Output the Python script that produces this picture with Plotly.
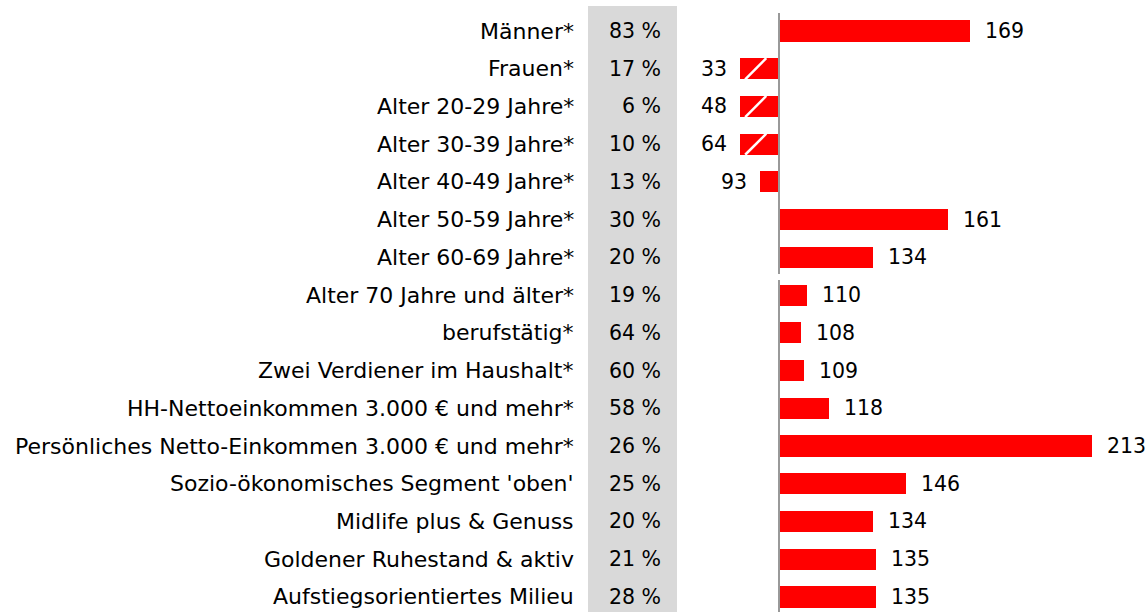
import plotly.graph_objects as go

categories = ["Männer*", "Frauen*", "Alter 20-29 Jahre*", "Alter 30-39 Jahre*", "Alter 40-49 Jahre*",
              "Alter 50-59 Jahre*", "Alter 60-69 Jahre*", "Alter 70 Jahre und älter*", "berufstätig*",
              "Zwei Verdiener im Haushalt*", "HH-Nettoeinkommen 3.000 € und mehr*",
              "Persönliches Netto-Einkommen 3.000 € und mehr*", "Sozio-ökonomisches Segment 'oben'",
              "Midlife plus & Genuss", "Goldener Ruhestand & aktiv", "Aufstiegsorientiertes Milieu"]
shares = [83, 17, 6, 10, 13, 30, 20, 19, 64, 60, 58, 26, 25, 20, 21, 28]
index_values = [169, 33, 48, 64, 93, 161, 134, 110, 108, 109, 118, 213, 146, 134, 135, 135]

BASE = 100
CLIP = 86
OFF = 0
W, H = 1146 - OFF, 612 - OFF
PX_PER_UNIT = 2.77
BASE_PX = 779 - OFF
x_lo = BASE - BASE_PX / PX_PER_UNIT
x_hi = BASE + (W - BASE_PX) / PX_PER_UNIT
ROW = 37.73
FIRST_Y = 31 - OFF
N = len(categories)
y_top = 0 - FIRST_Y / ROW
y_bot = (N - 1) + (H - (FIRST_Y + ROW * (N - 1))) / ROW

FONT = "DejaVu Sans"
FS_LABEL = 22
FS_NUM = 20.5
BAR_W = 0.56

ys = list(range(N))
disp = [max(v, CLIP) for v in index_values]

fig = go.Figure()
fig.add_trace(go.Bar(
    orientation="h", y=ys, x=[d - BASE for d in disp], base=BASE,
    width=BAR_W, marker=dict(color="#ff0000", line=dict(width=0)),
    hoverinfo="skip", showlegend=False))

def px_x(p):
    return (p - OFF) / W

def px_y(p):
    return 1 - (p - OFF) / H

shapes = []
shapes.append(dict(type="rect", xref="paper", yref="paper", x0=px_x(588), x1=px_x(677),
                   y0=0, y1=px_y(6), fillcolor="#d9d9d9", line=dict(width=0), layer="below"))
shapes.append(dict(type="line", xref="x", yref="paper", x0=BASE, x1=BASE, y0=px_y(274), y1=px_y(13),
                   line=dict(color="#999999", width=2)))
shapes.append(dict(type="line", xref="x", yref="paper", x0=BASE, x1=BASE, y0=0, y1=px_y(280),
                   line=dict(color="#999999", width=2)))

annotations = []
lf = dict(family=FONT, size=FS_LABEL, color="#000")
nf = dict(family=FONT, size=FS_NUM, color="#000")
for i, (cat, sh, v) in enumerate(zip(categories, shares, index_values)):
    annotations.append(dict(x=px_x(576), xref="paper", y=i, yref="y", text=cat, showarrow=False,
                            xanchor="right", yanchor="middle", font=lf))
    annotations.append(dict(x=px_x(663), xref="paper", y=i, yref="y", text=f"{sh} %", showarrow=False,
                            xanchor="right", yanchor="middle", font=nf))
    d = max(v, CLIP)
    if v >= BASE:
        annotations.append(dict(x=d, xref="x", y=i, yref="y", text=str(v), showarrow=False,
                                xanchor="left", yanchor="middle", xshift=13, font=nf))
    else:
        annotations.append(dict(x=d, xref="x", y=i, yref="y", text=str(v), showarrow=False,
                                xanchor="right", yanchor="middle", xshift=-11, font=nf))
    if v < CLIP:
        shapes.append(dict(type="line", xref="x", yref="y",
                           x0=CLIP + 1.8, y0=i + BAR_W / 2, x1=CLIP + 9.4, y1=i - BAR_W / 2,
                           line=dict(color="#ffffff", width=2.5)))

fig.update_layout(
    width=W, height=H, margin=dict(l=0, r=0, t=0, b=0),
    paper_bgcolor="#ffffff", plot_bgcolor="rgba(0,0,0,0)",
    xaxis=dict(range=[x_lo, x_hi], visible=False, fixedrange=True),
    yaxis=dict(range=[y_bot, y_top], visible=False, fixedrange=True),
    shapes=shapes, annotations=annotations, bargap=0,
)

fig.write_html("out.html", config={"displayModeBar": False}, post_script=(
    "document.body.style.margin='0';document.body.style.overflow='hidden';"
    "document.documentElement.style.overflow='hidden';"))
